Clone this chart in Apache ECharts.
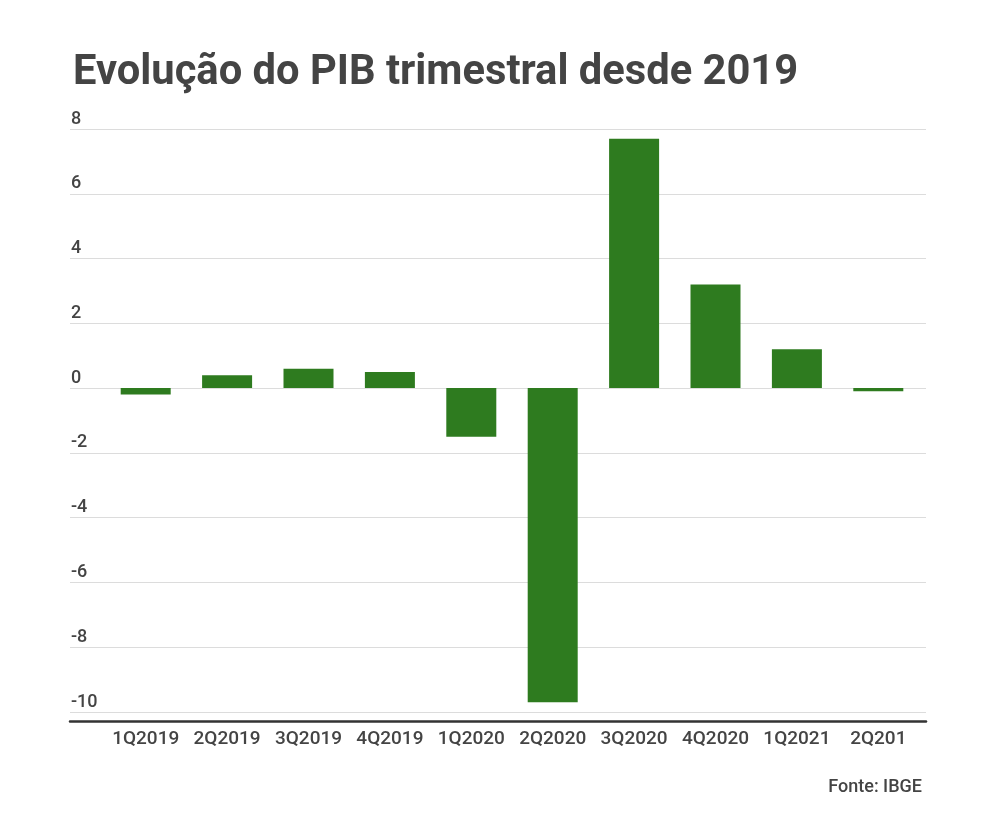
<!DOCTYPE html>
<html>
<head>
<meta charset="utf-8">
<script src="https://cdn.jsdelivr.net/npm/echarts@6/dist/echarts.min.js"></script>
<style>
  html, body { margin: 0; padding: 0; background: #fff; }
  #chart { width: 1000px; height: 821px; }
</style>
</head>
<body>
<div id="chart"></div>
<script>
// dados do gráfico
const quarters = ['1Q2019', '2Q2019', '3Q2019', '4Q2019', '1Q2020', '2Q2020', '3Q2020', '4Q2020', '1Q2021', '2Q201']
const gdpChange = [-0.2, 0.4, 0.6, 0.5, -1.5, -9.7, 7.7, 3.2, 1.2, -0.1]
const yMin = -10
const yMax = 8
const yStep = 2

const textColor = '#444'
const font = 'Roboto, "Noto Sans", sans-serif'

const myChart = echarts.init(document.getElementById('chart'))

const options = {
  animation: false,
  backgroundColor: '#fff',
  title: [
    {
      text: 'Evolução do PIB trimestral desde 2019',
      left: 68,
      top: 48,
      textStyle: { fontFamily: font, fontSize: 41.7, fontWeight: 'bold', color: textColor }
    },
    {
      text: 'Fonte: IBGE',
      right: 73,
      top: 773,
      textStyle: { fontFamily: font, fontSize: 18, fontWeight: 500, color: textColor }
    }
  ],
  // grade 0: linhas de grade e rótulos; grade 1: as barras
  grid: [
    { left: 70, right: 74, top: 129, bottom: 109 },
    { left: 105, right: 81, top: 129, bottom: 109 }
  ],
  xAxis: [
    {
      gridIndex: 0,
      type: 'category',
      data: [],
      offset: 9,
      axisLine: { show: true, onZero: false, lineStyle: { color: '#333', width: 2.5 } },
      axisTick: { show: false },
      axisLabel: { show: false }
    },
    {
      gridIndex: 1,
      type: 'category',
      data: quarters,
      axisLine: { show: false },
      axisTick: { show: false },
      axisLabel: {
        margin: 18,
        fontFamily: font,
        fontSize: 19,
        fontWeight: 500,
        color: textColor,
        interval: 0
      }
    }
  ],
  yAxis: [
    {
      gridIndex: 0,
      type: 'value',
      min: yMin,
      max: yMax,
      interval: yStep,
      axisLine: { show: false },
      axisTick: { show: false },
      splitLine: { lineStyle: { color: '#dcdcdc', width: 1 } },
      axisLabel: {
        inside: true,
        margin: 0,
        align: 'left',
        verticalAlign: 'bottom',
        padding: [0, 0, 1, 1],
        fontFamily: font,
        fontSize: 18,
        fontWeight: 500,
        color: textColor
      }
    },
    {
      gridIndex: 1,
      type: 'value',
      min: yMin,
      max: yMax,
      interval: yStep,
      show: false,
      splitLine: { show: false }
    }
  ],
  series: [
    {
      type: 'bar',
      xAxisIndex: 1,
      yAxisIndex: 1,
      data: gdpChange,
      barWidth: 50,
      itemStyle: { color: '#2e7b1f' }
    }
  ]
}

myChart.setOption(options)
</script>
</body>
</html>
